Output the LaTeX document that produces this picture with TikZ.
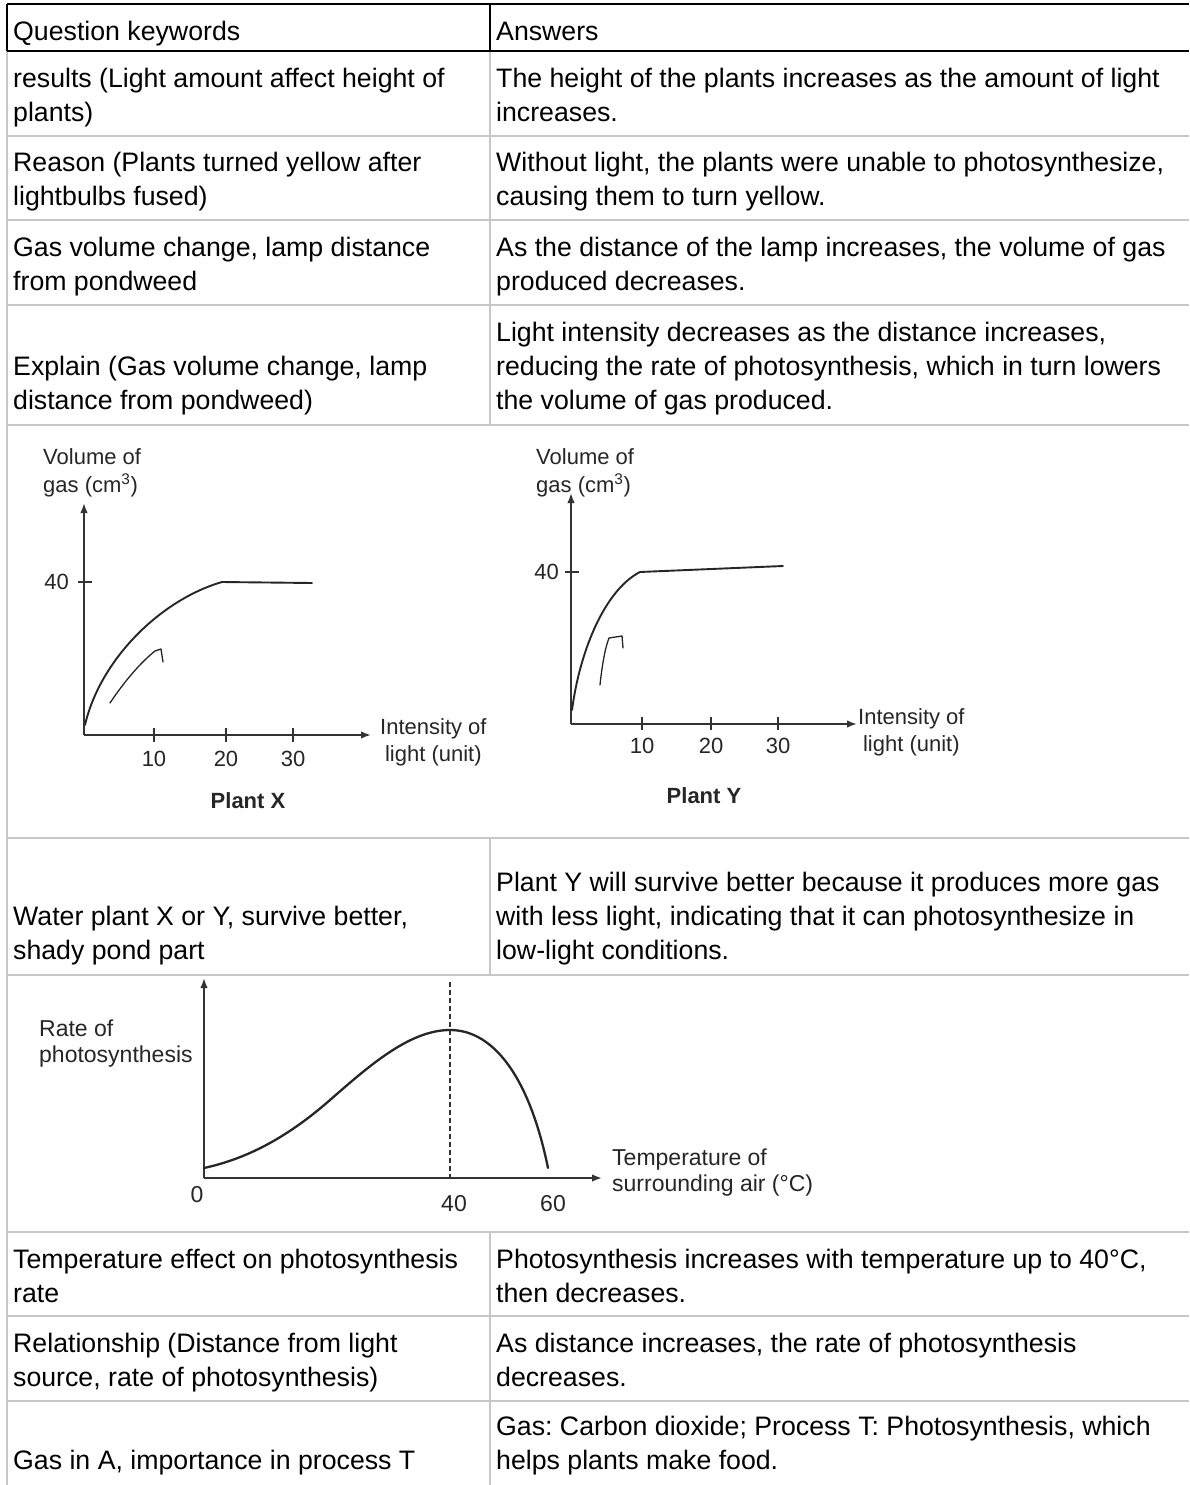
\documentclass[tikz,border=0pt]{standalone}
\usepackage{fontspec}
\setmainfont{Liberation Sans}
\usetikzlibrary{arrows.meta}
\frenchspacing
\begin{document}
\begin{tikzpicture}[x=1pt,y=-1pt,
  cell/.style={anchor=base west, align=left, inner sep=0pt, font=\fontsize{26.7}{34}\selectfont\frenchspacing},
  glab/.style={inner sep=0pt, font=\fontsize{22}{27}\selectfont, text=black!85},
  tlab/.style={inner sep=0pt, font=\fontsize{23}{26}\selectfont, text=black!85},
  gridline/.style={draw=black!22, line width=2pt},
  headline/.style={draw=black, line width=2.6pt},
  axis/.style={draw=black!80, line width=1.7pt, -{Latex[length=10pt,width=7.5pt]}},
  tick/.style={draw=black!80, line width=1.4pt},
  curve/.style={draw=black!85, line width=1.9pt, line cap=round, line join=round},
  hook/.style={draw=black!85, line width=1.3pt, line cap=round, line join=round},
  guide/.style={draw=black!80, line width=1.1pt, dash pattern=on 5pt off 3pt}
]
\useasboundingbox[fill=white] (0,0) rectangle (1189,1485);

% ---------- table grid ----------
\foreach \yy in {136,220,305,425,838,975,1232,1316,1401}
  \draw[gridline] (7,\yy) -- (1189,\yy);
\draw[gridline] (7,51) -- (7,1485);
\draw[gridline] (490,51) -- (490,425);
\draw[gridline] (490,838) -- (490,975);
\draw[gridline] (490,1232) -- (490,1485);
\draw[headline] (7,4) -- (1189,4);
\draw[headline] (7,51) -- (1189,51);
\draw[headline] (7,4) -- (7,51);
\draw[headline] (490,4) -- (490,51);

% ---------- header ----------
\node[cell] (h1) at (13,41) {Question keywords};
\node[cell] (h2) at (496,41) {Answers};

% ---------- rows (base = baseline of last line) ----------
\node[cell] (q1) at (13,122) {results (Light amount affect height of\\plants)};
\node[cell] (a1) at (496,122) {The height of the plants increases as the amount of light\\increases.};
\node[cell] (q2) at (13,205) {Reason (Plants turned yellow after\\lightbulbs fused)};
\node[cell] (a2) at (496,205) {Without light, the plants were unable to photosynthesize,\\causing them to turn yellow.};
\node[cell] (q3) at (13,290) {Gas volume change, lamp distance\\from pondweed};
\node[cell] (a3) at (496,290) {As the distance of the lamp increases, the volume of gas\\produced decreases.};
\node[cell] (q4) at (13,409) {Explain (Gas volume change, lamp\\distance from pondweed)};
\node[cell] (a4) at (496,409) {Light intensity decreases as the distance increases,\\reducing the rate of photosynthesis, which in turn lowers\\the volume of gas produced.};
\node[cell] (q6) at (13,959) {Water plant X or Y, survive better,\\shady pond part};
\node[cell] (a6) at (496,959) {Plant Y will survive better because it produces more gas\\with less light, indicating that it can photosynthesize in\\low-light conditions.};
\node[cell] (q8) at (13,1302) {Temperature effect on photosynthesis\\rate};
\node[cell] (a8) at (496,1302) {Photosynthesis increases with temperature up to 40°C,\\then decreases.};
\node[cell] (q9) at (13,1386) {Relationship (Distance from light\\source, rate of photosynthesis)};
\node[cell] (a9) at (496,1386) {As distance increases, the rate of photosynthesis\\decreases.};
\node[cell] (q10) at (13,1469) {Gas in A, importance in process T};
\node[cell] (a10) at (496,1469) {Gas: Carbon dioxide; Process T: Photosynthesis, which\\helps plants make food.};

% ---------- graph: Plant X ----------
\coordinate (xo) at (84,735);
\coordinate (xtop) at (84,503);
\coordinate (xright) at (371,735);
\draw[axis] (xo) -- (xtop);
\draw[axis] (xo) -- (xright);
\draw[tick] (78,582) -- (92,582);
\foreach \tx in {154,226,293} \draw[tick] (\tx,728) -- (\tx,742);
\draw[curve] (85,725) .. controls (100,660) and (160,600) .. (222,582) -- (312,583);
\draw[hook] (110,703) .. controls (124,682) and (140,663) .. (155,651) -- (161,649) -- (163,662);
\node[glab, anchor=base west, align=left] (xvol) at (43,492) {Volume of\\[1pt]gas (cm\textsuperscript{3})};
\node[glab, anchor=base east] (x40) at (69,589) {40};
\node[glab, anchor=base] (x10) at (154,766) {10};
\node[glab, anchor=base] (x20) at (226,766) {20};
\node[glab, anchor=base] (x30) at (293,766) {30};
\node[glab, anchor=base west, align=center] (xint) at (380,761) {Intensity of\\light (unit)};
\node[glab, anchor=base, font=\fontsize{22}{27}\selectfont\bfseries] (xname) at (248,808) {Plant X};

% ---------- graph: Plant Y ----------
\coordinate (yo) at (571,724);
\coordinate (ytop) at (571,493);
\coordinate (yright) at (857,724);
\draw[axis] (yo) -- (ytop);
\draw[axis] (yo) -- (yright);
\draw[tick] (565,572) -- (579,572);
\foreach \tx in {642,711,778} \draw[tick] (\tx,717) -- (\tx,730);
\draw[curve] (572,710) .. controls (580,650) and (605,590) .. (640,572) -- (783,566);
\draw[hook] (600,685) .. controls (602,666) and (605,648) .. (609,638) -- (622,636) -- (623,648);
\node[glab, anchor=base west, align=left] (yvol) at (536,492) {Volume of\\[1pt]gas (cm\textsuperscript{3})};
\node[glab, anchor=base east] (y40) at (559,579) {40};
\node[glab, anchor=base] (y10) at (642,753) {10};
\node[glab, anchor=base] (y20) at (711,753) {20};
\node[glab, anchor=base] (y30) at (778,753) {30};
\node[glab, anchor=base west, align=center] (yint) at (858,751) {Intensity of\\light (unit)};
\node[glab, anchor=base, font=\fontsize{22}{27}\selectfont\bfseries] (yname) at (704,803) {Plant Y};

% ---------- graph: temperature ----------
\coordinate (to) at (204,1178);
\coordinate (ttop) at (204,978);
\coordinate (tright) at (602,1178);
\coordinate (dtop) at (450,982);
\coordinate (dbot) at (450,1178);
\draw[axis] (to) -- (ttop);
\draw[axis] (to) -- (tright);
\draw[guide] (dtop) -- (dbot);
\draw[curve, line width=2.3pt] (204,1168) .. controls (250,1158) and (290,1135) .. (330,1100)
  .. controls (370,1065) and (410,1030) .. (450,1030)
  .. controls (495,1030) and (530,1080) .. (548,1168);
\node[tlab, anchor=base west, align=left] (trate) at (39,1062) {Rate of\\photosynthesis};
\node[tlab, anchor=base west, align=left] (ttemp) at (612,1191) {Temperature of\\surrounding air (°C)};
\node[tlab, anchor=base] (t0) at (197,1202) {0};
\node[tlab, anchor=base] (t40) at (454,1211) {40};
\node[tlab, anchor=base] (t60) at (553,1211) {60};
\end{tikzpicture}
\end{document}
